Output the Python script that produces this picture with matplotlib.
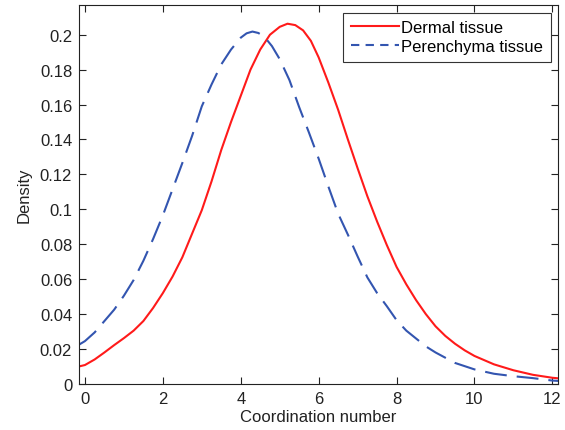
import numpy as np
import matplotlib.pyplot as plt
from matplotlib.lines import Line2D

plt.rcParams['font.family'] = ['Liberation Sans', 'DejaVu Sans']

# Dermal tissue density curve
x_dermal = [-0.15, 0.0, 0.25, 0.5, 0.75, 1.0, 1.25, 1.5, 1.75, 2.0, 2.25, 2.5, 2.75,
            3.0, 3.25, 3.5, 3.75, 4.0, 4.25, 4.5, 4.75, 5.0, 5.2, 5.4, 5.6, 5.8,
            6.0, 6.25, 6.5, 6.75, 7.0, 7.25, 7.5, 7.75, 8.0, 8.25, 8.5, 8.75, 9.0,
            9.25, 9.5, 9.75, 10.0, 10.5, 11.0, 11.5, 12.0, 12.15]
y_dermal = [0.0100, 0.0108, 0.0140, 0.0180, 0.0222, 0.0262, 0.0305, 0.0360, 0.0435,
            0.0520, 0.0615, 0.0725, 0.0860, 0.0995, 0.1160, 0.1340, 0.1500, 0.1650,
            0.1800, 0.1915, 0.2000, 0.2045, 0.2063, 0.2055, 0.2025, 0.1965, 0.1870,
            0.1725, 0.1570, 0.1400, 0.1235, 0.1075, 0.0930, 0.0795, 0.0670, 0.0570,
            0.0480, 0.0400, 0.0330, 0.0275, 0.0230, 0.0192, 0.0160, 0.0112, 0.0078,
            0.0052, 0.0035, 0.0032]

# Perenchyma tissue density curve
x_peren = [-0.15, 0.0, 0.25, 0.5, 0.75, 1.0, 1.25, 1.5, 1.75, 2.0, 2.25, 2.5, 2.75,
           3.0, 3.25, 3.5, 3.75, 4.0, 4.15, 4.3, 4.45, 4.6, 4.8, 5.0, 5.25, 5.5,
           5.75, 6.0, 6.25, 6.5, 6.75, 7.0, 7.25, 7.5, 7.75, 8.0, 8.25, 8.5, 8.75,
           9.0, 9.5, 10.0, 10.5, 11.0, 11.5, 12.0, 12.15]
y_peren = [0.0225, 0.0245, 0.0295, 0.0360, 0.0425, 0.0505, 0.0595, 0.0705, 0.0830,
           0.0965, 0.1115, 0.1265, 0.1420, 0.1590, 0.1715, 0.1830, 0.1915, 0.1983,
           0.2008, 0.2018, 0.2010, 0.1990, 0.1935, 0.1860, 0.1740, 0.1585, 0.1440,
           0.1290, 0.1130, 0.0975, 0.0855, 0.0730, 0.0610, 0.0520, 0.0445, 0.0365,
           0.0305, 0.0260, 0.0215, 0.0180, 0.0120, 0.0083, 0.0058, 0.0044, 0.0033,
           0.0019, 0.0017]

xticks = [0, 2, 4, 6, 8, 10, 12]
yticks = [0, 0.02, 0.04, 0.06, 0.08, 0.1, 0.12, 0.14, 0.16, 0.18, 0.2]
ytick_labels = ['0', '0.02', '0.04', '0.06', '0.08', '0.1', '0.12', '0.14',
                '0.16', '0.18', '0.2']

red = '#ff1a1a'
blue = '#3355b0'

fig = plt.figure(figsize=(5.65, 4.31), dpi=100)
ax = fig.add_axes([0.140, 0.107, 0.848, 0.879])

ax.plot(x_dermal, y_dermal, color=red, lw=1.5)
ax.plot(x_peren, y_peren, color=blue, lw=1.5, dashes=(10.5, 4.8))

ax.set_xlim(-0.15, 12.15)
ax.set_ylim(0, 0.217)
ax.set_xticks(xticks)
ax.set_yticks(yticks)
ax.set_yticklabels(ytick_labels)
ax.tick_params(direction='in', length=5, width=0.8, labelsize=12,
               top=True, right=True, colors='#222222', pad=5)
for s in ax.spines.values():
    s.set_linewidth(0.8)
    s.set_color('#222222')

ax.set_xlabel('Coordination number', fontsize=12, labelpad=2, color='#222222')
ax.set_ylabel('Density', fontsize=12, labelpad=6, color='#222222')

# legend handles drawn like MATLAB's short-dash sample
handles = [Line2D([], [], color=red, lw=1.5),
           Line2D([], [], color=blue, lw=1.5, dashes=(4, 3))]
leg = ax.legend(handles, ['Dermal tissue', 'Perenchyma tissue'],
                loc='upper right', fontsize=12, handlelength=2.9,
                handletextpad=0.15, borderpad=0.45, labelspacing=0.25,
                fancybox=False, framealpha=1, borderaxespad=0.45)
leg.get_frame().set_edgecolor('#333333')
leg.get_frame().set_linewidth(0.8)

fig.savefig('out.png', dpi=100)
